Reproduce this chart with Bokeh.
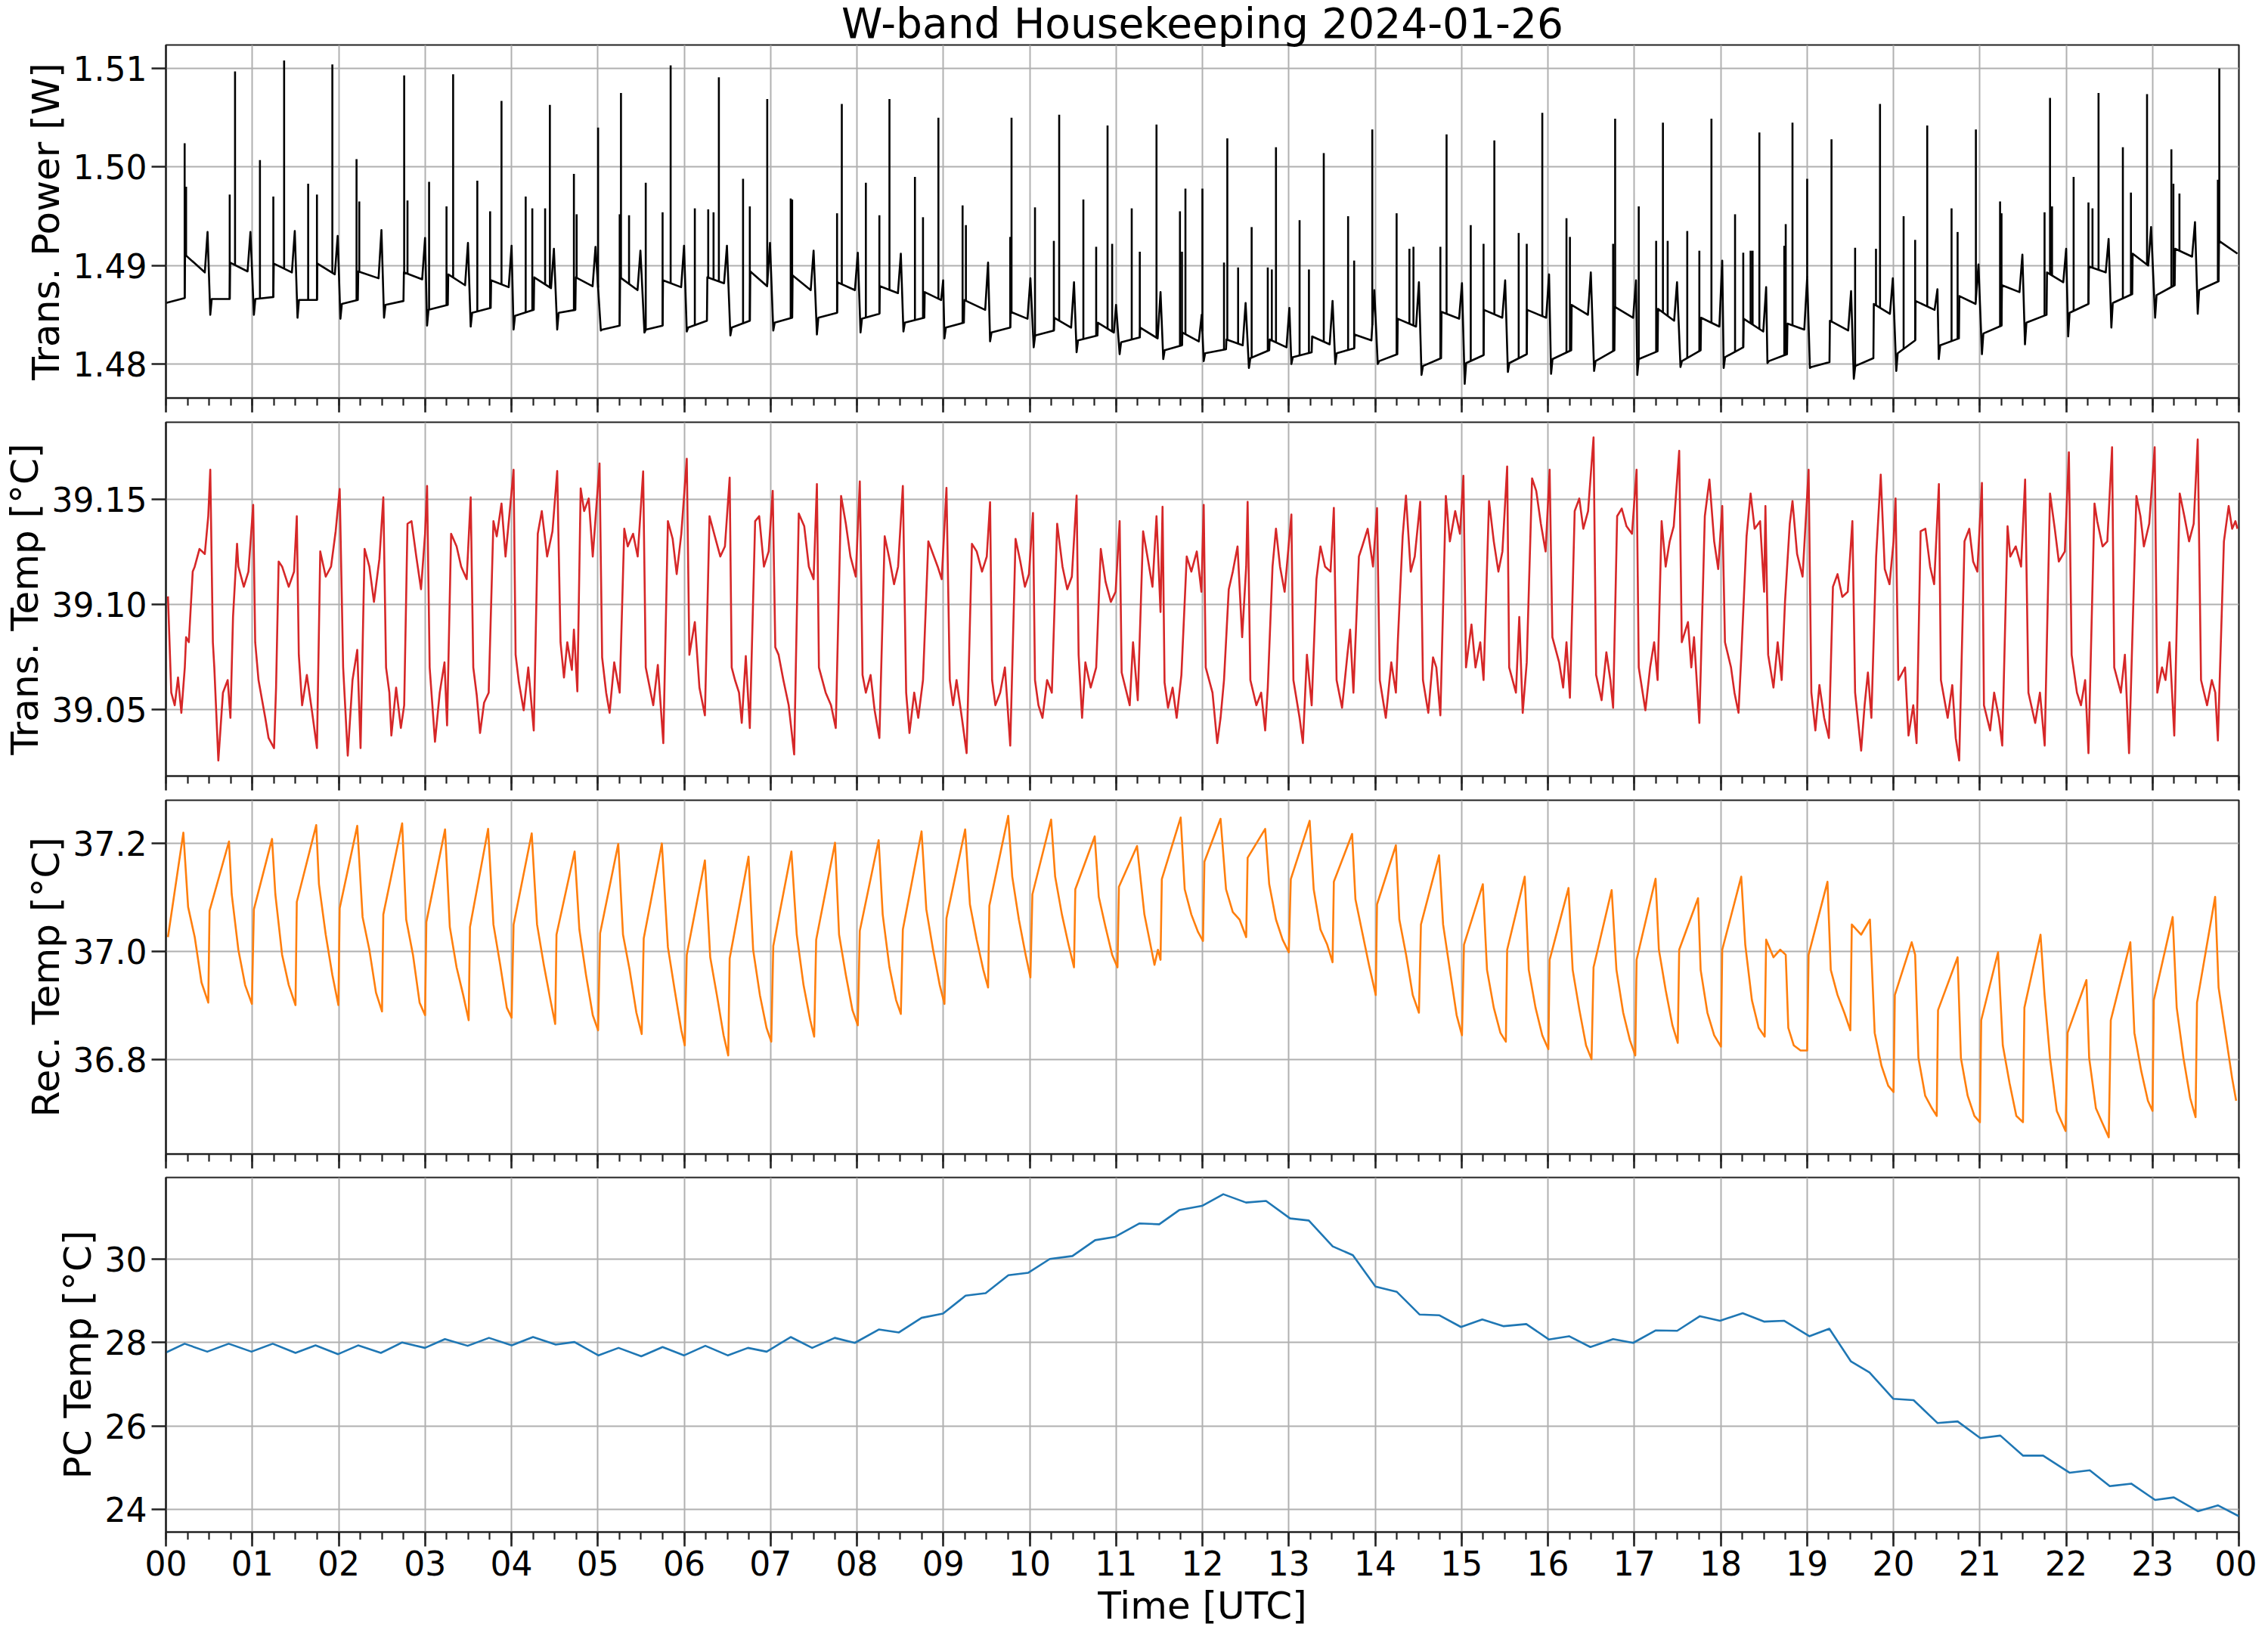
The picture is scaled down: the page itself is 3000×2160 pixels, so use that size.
import numpy as np
from bokeh.plotting import figure
from bokeh.layouts import column
from bokeh.models import FixedTicker, Range1d, PrintfTickFormatter
from bokeh.embed import file_html
from bokeh.resources import INLINE

# ---------------------------------------------------------------- texts / ticks
TITLE = "W-band Housekeeping 2024-01-26"
X_LABEL = "Time [UTC]"
Y_LABELS = ["Trans. Power [W]", "Trans. Temp [°C]", "Rec. Temp [°C]", "PC Temp [°C]"]
HOUR_TICKS = [0, 60, 120, 180, 240, 300, 360, 420, 480, 540, 600, 660, 720,
              780, 840, 900, 960, 1020, 1080, 1140, 1200, 1260, 1320, 1380, 1440]
HOUR_LABELS = ["00", "01", "02", "03", "04", "05", "06", "07", "08", "09", "10", "11", "12",
               "13", "14", "15", "16", "17", "18", "19", "20", "21", "22", "23", "00"]
QUARTER_TICKS = list(range(0, 1441, 15))
POWER_TICKS = [1.48, 1.49, 1.50, 1.51]
TTEMP_TICKS = [39.05, 39.10, 39.15]
RTEMP_TICKS = [36.8, 37.0, 37.2]
PCTEMP_TICKS = [24, 26, 28, 30]

# ---------------------------------------------------------------- data (time in minutes UTC)
# transmitter power: plateau / switching breakpoints
POWER_BASE = [
    (0.0, 1.4862), (13.0, 1.4867), (13.3, 1.4911), (27.0, 1.4893), (28.9, 1.4934),
    (30.8, 1.4850), (31.8, 1.4866), (44.3, 1.4866), (44.6, 1.4903), (56.7, 1.4894), (58.7, 1.4934),
    (61.1, 1.4850), (62.1, 1.4866), (74.6, 1.4868), (74.9, 1.4902), (87.5, 1.4893), (89.5, 1.4935),
    (91.4, 1.4847), (92.4, 1.4865), (104.9, 1.4865), (105.2, 1.4902), (117.3, 1.4891), (119.3, 1.4930),
    (121.2, 1.4846), (122.2, 1.4861), (133.3, 1.4865), (133.6, 1.4894), (147.7, 1.4887), (149.7, 1.4936),
    (151.5, 1.4847), (152.5, 1.4860), (165.0, 1.4864), (165.3, 1.4893), (178.0, 1.4886), (180.0, 1.4928),
    (181.4, 1.4839), (182.4, 1.4855), (195.8, 1.4860), (196.1, 1.4891), (207.8, 1.4880), (209.8, 1.4923),
    (211.7, 1.4838), (212.7, 1.4852), (225.6, 1.4857), (225.9, 1.4885), (238.1, 1.4878), (240.1, 1.4920),
    (241.5, 1.4835), (242.5, 1.4849), (255.5, 1.4855), (255.8, 1.4888), (267.5, 1.4877), (269.5, 1.4917),
    (271.8, 1.4835), (272.8, 1.4852), (284.4, 1.4855), (284.7, 1.4888), (296.4, 1.4879), (298.4, 1.4919),
    (302.1, 1.4834), (303.1, 1.4835), (315.2, 1.4839), (315.5, 1.4888), (327.6, 1.4875), (329.6, 1.4915),
    (332.4, 1.4832), (333.4, 1.4835), (345.0, 1.4839), (345.3, 1.4885), (357.9, 1.4878), (359.9, 1.4920),
    (361.8, 1.4833), (362.8, 1.4837), (375.8, 1.4844), (376.1, 1.4888), (387.7, 1.4882), (389.7, 1.4920),
    (392.1, 1.4829), (393.1, 1.4837), (405.6, 1.4844), (405.9, 1.4894), (417.6, 1.4879), (419.6, 1.4923),
    (421.9, 1.4834), (422.9, 1.4842), (435.0, 1.4847), (435.3, 1.4890), (447.9, 1.4875), (449.9, 1.4915),
    (452.2, 1.4830), (453.2, 1.4847), (466.2, 1.4852), (466.5, 1.4883), (478.6, 1.4875), (480.6, 1.4913),
    (482.5, 1.4832), (483.5, 1.4846), (495.6, 1.4851), (495.9, 1.4879), (508.5, 1.4872), (510.5, 1.4912),
    (512.3, 1.4833), (513.3, 1.4842), (526.8, 1.4847), (527.1, 1.4873), (538.5, 1.4865), (539.9, 1.4885),
    (540.8, 1.4826), (541.8, 1.4837), (554.3, 1.4842), (554.6, 1.4865), (569.1, 1.4855), (571.1, 1.4903),
    (572.5, 1.4823), (573.5, 1.4832), (586.5, 1.4837), (586.8, 1.4853), (598.5, 1.4846), (600.5, 1.4887),
    (602.8, 1.4817), (603.8, 1.4829), (616.8, 1.4834), (617.1, 1.4847), (628.8, 1.4837), (630.8, 1.4883),
    (632.6, 1.4812), (633.6, 1.4824), (647.1, 1.4829), (647.4, 1.4842), (658.5, 1.4832), (660.0, 1.4860),
    (662.5, 1.4810), (663.5, 1.4822), (676.5, 1.4827), (676.8, 1.4837), (688.9, 1.4826), (690.9, 1.4873),
    (692.8, 1.4805), (693.8, 1.4814), (705.8, 1.4819), (706.1, 1.4832), (717.5, 1.4823), (719.5, 1.4850),
    (720.9, 1.4803), (721.9, 1.4811), (736.4, 1.4815), (736.7, 1.4825), (748.0, 1.4819), (750.0, 1.4862),
    (752.3, 1.4796), (753.3, 1.4806), (766.4, 1.4814), (766.7, 1.4825), (778.4, 1.4817), (780.4, 1.4857),
    (781.8, 1.4800), (782.8, 1.4807), (795.9, 1.4812), (796.2, 1.4828), (808.4, 1.4820), (810.4, 1.4864),
    (812.3, 1.4800), (813.3, 1.4811), (825.4, 1.4816), (825.7, 1.4830), (837.4, 1.4824), (839.4, 1.4875),
    (841.8, 1.4800), (842.8, 1.4803), (855.4, 1.4810), (855.7, 1.4846), (868.4, 1.4838), (870.4, 1.4883),
    (872.2, 1.4789), (873.2, 1.4798), (885.8, 1.4806), (886.1, 1.4853), (898.3, 1.4846), (900.3, 1.4882),
    (902.2, 1.4780), (903.2, 1.4801), (915.3, 1.4809), (915.6, 1.4855), (928.3, 1.4847), (930.3, 1.4885),
    (932.2, 1.4792), (933.2, 1.4801), (945.3, 1.4810), (945.6, 1.4855), (958.8, 1.4847), (960.8, 1.4891),
    (962.2, 1.4790), (963.2, 1.4805), (976.2, 1.4814), (976.5, 1.4860), (987.8, 1.4850), (989.8, 1.4893),
    (992.1, 1.4793), (993.1, 1.4803), (1006.2, 1.4814), (1006.5, 1.4858), (1019.2, 1.4847), (1021.2, 1.4885),
    (1022.1, 1.4789), (1023.1, 1.4805), (1036.2, 1.4813), (1036.5, 1.4856), (1047.7, 1.4844), (1049.7, 1.4883),
    (1052.1, 1.4797), (1053.1, 1.4803), (1066.1, 1.4814), (1066.4, 1.4847), (1079.1, 1.4838), (1081.1, 1.4905),
    (1082.1, 1.4796), (1083.1, 1.4807), (1095.7, 1.4817), (1096.0, 1.4846), (1109.6, 1.4833), (1111.6, 1.4878),
    (1112.5, 1.4801), (1113.5, 1.4803), (1126.1, 1.4810), (1126.4, 1.4841), (1138.1, 1.4835), (1140.1, 1.4888),
    (1142.0, 1.4796), (1143.0, 1.4797), (1155.6, 1.4802), (1155.9, 1.4844), (1168.6, 1.4834), (1170.6, 1.4874),
    (1172.5, 1.4785), (1173.5, 1.4798), (1186.1, 1.4806), (1186.4, 1.4861), (1197.6, 1.4851), (1199.6, 1.4887),
    (1202.0, 1.4793), (1203.0, 1.4811), (1215.1, 1.4824), (1215.4, 1.4864), (1228.6, 1.4855), (1230.6, 1.4876),
    (1231.5, 1.4805), (1232.5, 1.4819), (1245.5, 1.4826), (1245.8, 1.4869), (1257.1, 1.4861), (1259.1, 1.4901),
    (1261.5, 1.4810), (1262.5, 1.4831), (1275.1, 1.4839), (1275.4, 1.4880), (1287.6, 1.4873), (1289.6, 1.4911),
    (1291.4, 1.4820), (1292.4, 1.4842), (1306.4, 1.4850), (1306.7, 1.4893), (1318.0, 1.4883), (1320.0, 1.4917),
    (1321.4, 1.4828), (1322.4, 1.4852), (1335.5, 1.4861), (1335.8, 1.4899), (1347.5, 1.4893), (1349.5, 1.4927),
    (1351.4, 1.4837), (1352.4, 1.4862), (1365.9, 1.4871), (1366.2, 1.4912), (1377.0, 1.4900), (1379.0, 1.4939),
    (1381.8, 1.4847), (1382.8, 1.4870), (1395.4, 1.4880), (1395.7, 1.4917), (1407.5, 1.4909), (1409.5, 1.4944),
    (1411.4, 1.4851), (1412.4, 1.4875), (1425.9, 1.4884), (1426.2, 1.4925), (1439.0, 1.4912),
]
# transmitter power: short spikes (time, peak value)
POWER_SPIKES = [
    (13.0, 1.5024), (14.0, 1.4980), (44.3, 1.4972), (48.0, 1.5097), (65.3, 1.5007), (74.6, 1.4970),
    (82.1, 1.5108), (98.8, 1.4983), (104.9, 1.4972), (115.6, 1.5104), (132.4, 1.5008), (134.3, 1.4965),
    (165.5, 1.5093), (167.8, 1.4966), (182.8, 1.4985), (194.9, 1.4960), (199.5, 1.5094), (216.3, 1.4986),
    (225.2, 1.4955), (233.1, 1.5067), (249.9, 1.4970), (254.5, 1.4958), (263.4, 1.4958), (266.7, 1.5063),
    (283.4, 1.4993), (285.3, 1.4952), (300.2, 1.5040), (315.2, 1.4952), (316.1, 1.5075), (321.7, 1.4951),
    (333.3, 1.4984), (345.0, 1.4954), (350.6, 1.5103), (367.4, 1.4958), (376.7, 1.4957), (380.4, 1.4954),
    (384.1, 1.5091), (400.9, 1.4988), (405.6, 1.4960), (417.7, 1.5069), (434.0, 1.4968), (435.0, 1.4967),
    (466.2, 1.4953), (469.5, 1.5064), (486.2, 1.4984), (495.6, 1.4951), (502.6, 1.5069), (520.3, 1.4990),
    (525.9, 1.4949), (536.6, 1.5050), (553.4, 1.4961), (555.7, 1.4941), (586.5, 1.4929), (587.4, 1.5050),
    (603.7, 1.4959), (616.8, 1.4925), (620.5, 1.5053), (637.3, 1.4967), (646.2, 1.4919), (654.1, 1.5042),
    (657.3, 1.4922), (670.9, 1.4958), (676.5, 1.4914), (688.1, 1.5043), (704.4, 1.4955), (705.8, 1.4914),
    (708.2, 1.4978), (720.0, 1.4978), (735.0, 1.4903), (737.3, 1.5029), (744.8, 1.4898), (754.2, 1.4939),
    (765.4, 1.4898), (768.2, 1.4896), (771.1, 1.5020), (787.5, 1.4946), (794.0, 1.4896), (804.3, 1.5014),
    (821.2, 1.4950), (825.4, 1.4905), (838.0, 1.5038), (854.9, 1.4953), (863.8, 1.4917), (866.6, 1.4919),
    (885.3, 1.4919), (889.6, 1.5033), (906.4, 1.4941), (915.3, 1.4922), (922.8, 1.5027), (939.7, 1.4933),
    (945.3, 1.4922), (956.1, 1.5055), (972.9, 1.4948), (975.3, 1.4929), (1005.3, 1.4922), (1006.7, 1.5049),
    (1023.1, 1.4960), (1035.2, 1.4925), (1039.9, 1.5045), (1043.2, 1.4925), (1056.8, 1.4935), (1065.2, 1.4915),
    (1073.6, 1.5049), (1090.0, 1.4952), (1095.7, 1.4913), (1100.8, 1.4915), (1102.2, 1.4915), (1106.9, 1.5035),
    (1124.2, 1.4920), (1125.2, 1.4942), (1129.9, 1.5045), (1140.1, 1.4988), (1157.0, 1.5028), (1173.4, 1.4918),
    (1187.9, 1.4917), (1190.7, 1.5064), (1207.1, 1.4950), (1215.1, 1.4926), (1223.5, 1.5042), (1240.4, 1.4958),
    (1244.6, 1.4934), (1257.3, 1.5038), (1274.1, 1.4965), (1275.1, 1.4953), (1305.0, 1.4954), (1308.8, 1.5070),
    (1310.2, 1.4960), (1325.2, 1.4990), (1335.5, 1.4964), (1338.3, 1.4958), (1342.5, 1.5075), (1359.4, 1.5020),
    (1365.0, 1.4974), (1376.2, 1.5074), (1393.1, 1.5018), (1394.5, 1.4983), (1398.7, 1.4973), (1425.4, 1.4987),
    (1426.4, 1.5100),
]
# transmitter temperature
TTEMP = [
    (1.4, 39.1038), (3.7, 39.0580), (6.1, 39.0520), (8.4, 39.0652), (10.7, 39.0484), (13.1, 39.0700), (14.0, 39.0844),
    (15.9, 39.0820), (18.6, 39.1156), (20.0, 39.1180), (23.3, 39.1264), (27.0, 39.1240), (29.4, 39.1420), (30.8, 39.1641),
    (32.6, 39.0820), (33.6, 39.0700), (36.4, 39.0257), (39.6, 39.0580), (42.9, 39.0640), (44.8, 39.0460), (46.6, 39.0940),
    (49.4, 39.1288), (50.3, 39.1180), (54.1, 39.1084), (57.3, 39.1156), (60.6, 39.1474),
    (62.0, 39.0820), (64.3, 39.0640), (69.0, 39.0460), (71.3, 39.0364), (75.1, 39.0316), (76.5, 39.0604), (78.3, 39.1204),
    (80.7, 39.1180), (85.3, 39.1084), (89.0, 39.1156), (90.9, 39.1420),
    (92.3, 39.0760), (94.6, 39.0520), (97.9, 39.0664), (101.6, 39.0484), (104.9, 39.0316), (107.2, 39.1252), (111.0, 39.1132),
    (114.7, 39.1180), (117.9, 39.1348), (120.7, 39.1549),
    (123.1, 39.0700), (126.3, 39.0280), (129.6, 39.0640), (132.9, 39.0784), (135.2, 39.0316), (138.0, 39.1264), (141.3, 39.1180),
    (144.5, 39.1012), (148.3, 39.1216), (151.0, 39.1510),
    (152.9, 39.0700), (155.2, 39.0580), (156.6, 39.0376), (159.9, 39.0604), (163.2, 39.0412), (165.5, 39.0520), (167.8, 39.1384),
    (170.6, 39.1396), (173.9, 39.1228), (177.2, 39.1072), (180.0, 39.1336), (181.4, 39.1564),
    (183.2, 39.0700), (186.9, 39.0346), (190.2, 39.0580), (193.5, 39.0724), (195.3, 39.0424), (198.1, 39.1336), (201.9, 39.1276),
    (205.1, 39.1180), (208.9, 39.1120), (211.7, 39.1510),
    (213.5, 39.0700), (215.9, 39.0568), (218.2, 39.0388), (221.0, 39.0532), (224.2, 39.0580), (227.5, 39.1396), (229.8, 39.1324),
    (233.1, 39.1480), (235.9, 39.1228), (241.5, 39.1641),
    (242.9, 39.0760), (245.2, 39.0628), (248.5, 39.0496), (251.7, 39.0700), (255.5, 39.0400), (258.3, 39.1336), (261.1, 39.1444),
    (264.8, 39.1228), (268.5, 39.1348), (271.8, 39.1635),
    (274.1, 39.0820), (276.5, 39.0652), (278.8, 39.0820), (282.0, 39.0688), (283.4, 39.0880), (285.8, 39.0586), (288.1, 39.1552),
    (290.5, 39.1444), (293.7, 39.1504), (296.5, 39.1228), (301.2, 39.1671),
    (303.0, 39.0748), (305.8, 39.0580), (308.2, 39.0484), (311.4, 39.0724), (315.2, 39.0580), (318.4, 39.1360), (320.8, 39.1276),
    (324.5, 39.1336), (327.7, 39.1228), (331.5, 39.1633),
    (333.3, 39.0700), (338.5, 39.0520), (341.7, 39.0712), (345.5, 39.0340), (348.7, 39.1396), (352.0, 39.1312), (354.8, 39.1144),
    (358.0, 39.1336), (361.8, 39.1693),
    (363.6, 39.0760), (367.4, 39.0916), (370.6, 39.0604), (374.4, 39.0472), (377.6, 39.1420), (381.3, 39.1324), (385.1, 39.1228),
    (388.3, 39.1276), (391.6, 39.1603),
    (393.0, 39.0700), (395.3, 39.0640), (398.1, 39.0580), (400.0, 39.0436), (402.8, 39.0754), (405.6, 39.0412), (409.3, 39.1396),
    (412.1, 39.1420), (415.4, 39.1180), (418.7, 39.1252), (421.5, 39.1540),
    (423.3, 39.0796), (425.6, 39.0760), (428.9, 39.0640), (432.6, 39.0520), (436.4, 39.0286), (439.6, 39.1432), (443.4, 39.1372),
    (446.6, 39.1180), (449.9, 39.1120), (452.2, 39.1573),
    (453.6, 39.0700), (458.3, 39.0580), (462.0, 39.0520), (465.3, 39.0412), (469.0, 39.1516), (472.3, 39.1384), (475.5, 39.1228),
    (479.2, 39.1132), (482.0, 39.1585),
    (483.9, 39.0664), (486.2, 39.0580), (489.5, 39.0664), (492.3, 39.0496), (495.6, 39.0364), (499.3, 39.1324), (502.6, 39.1216),
    (505.8, 39.1096), (508.6, 39.1180), (511.9, 39.1564),
    (514.2, 39.0580), (516.5, 39.0388), (519.8, 39.0580), (522.6, 39.0460), (525.9, 39.0640), (529.6, 39.1300), (536.1, 39.1180),
    (538.9, 39.1120), (542.2, 39.1555),
    (544.5, 39.0640), (546.8, 39.0520), (549.2, 39.0640), (552.9, 39.0460), (556.2, 39.0292), (559.9, 39.1288), (563.2, 39.1252),
    (566.9, 39.1156), (570.2, 39.1228), (572.5, 39.1486),
    (573.9, 39.0640), (576.2, 39.0520), (579.5, 39.0580), (582.8, 39.0700), (586.5, 39.0328), (590.2, 39.1312), (593.5, 39.1204),
    (596.7, 39.1084), (599.5, 39.1144), (602.3, 39.1435),
    (603.7, 39.0640), (606.1, 39.0520), (608.9, 39.0460), (612.1, 39.0640), (615.4, 39.0580), (619.1, 39.1384), (622.8, 39.1180),
    (626.1, 39.1072), (629.3, 39.1132), (632.6, 39.1518),
    (634.0, 39.0760), (636.4, 39.0460), (638.7, 39.0724), (642.4, 39.0604), (646.2, 39.0700), (649.4, 39.1264), (652.7, 39.1108),
    (656.4, 39.1012), (659.7, 39.1060), (662.5, 39.1396),
    (663.9, 39.0676), (669.5, 39.0520), (671.8, 39.0820), (675.1, 39.0544), (678.8, 39.1348), (682.1, 39.1216), (685.3, 39.1084),
    (688.1, 39.1420), (690.9, 39.0964), (692.3, 39.1465),
    (693.7, 39.0628), (696.1, 39.0508), (699.3, 39.0604), (702.1, 39.0460), (705.4, 39.0664), (709.1, 39.1228), (712.3, 39.1156),
    (716.1, 39.1252), (719.3, 39.1060), (720.9, 39.1474),
    (722.3, 39.0700), (727.0, 39.0580), (730.3, 39.0340), (732.6, 39.0460), (735.0, 39.0640), (738.3, 39.1072), (741.1, 39.1156),
    (744.4, 39.1276), (747.6, 39.0844), (750.4, 39.1180), (751.4, 39.1488),
    (753.3, 39.0640), (757.5, 39.0520), (760.8, 39.0580), (763.6, 39.0400), (765.4, 39.0604), (768.7, 39.1180), (771.1, 39.1360),
    (773.9, 39.1180), (777.1, 39.1060), (781.8, 39.1428),
    (783.2, 39.0640), (787.5, 39.0460), (789.8, 39.0340), (792.6, 39.0760), (795.9, 39.0520), (799.2, 39.1120), (802.0, 39.1276),
    (805.2, 39.1180), (809.0, 39.1156), (811.3, 39.1459),
    (813.2, 39.0640), (817.0, 39.0508), (820.7, 39.0760), (822.6, 39.0880), (824.9, 39.0580), (828.7, 39.1228), (831.0, 39.1276),
    (834.8, 39.1360), (838.5, 39.1180), (841.3, 39.1458),
    (843.2, 39.0640), (847.4, 39.0460), (851.2, 39.0724), (854.4, 39.0580), (855.8, 39.0832), (859.1, 39.1324), (861.4, 39.1518),
    (864.7, 39.1156), (867.5, 39.1228), (871.3, 39.1489),
    (873.2, 39.0640), (876.9, 39.0484), (880.2, 39.0748), (882.5, 39.0700), (885.3, 39.0472), (889.1, 39.1516), (891.9, 39.1300),
    (895.6, 39.1444), (898.9, 39.1336), (901.3, 39.1612),
    (903.1, 39.0700), (906.9, 39.0904), (909.7, 39.0700), (913.0, 39.0820), (915.3, 39.0640), (919.1, 39.1492), (922.4, 39.1300),
    (925.6, 39.1156), (928.4, 39.1252), (931.7, 39.1656),
    (933.1, 39.0700), (937.8, 39.0580), (940.1, 39.0940), (942.5, 39.0484), (945.3, 39.0724), (949.0, 39.1600), (951.9, 39.1540),
    (955.1, 39.1384), (958.4, 39.1252), (961.2, 39.1641),
    (963.1, 39.0844), (967.8, 39.0724), (970.6, 39.0604), (972.9, 39.0820), (975.3, 39.0556), (978.6, 39.1444), (981.8, 39.1504),
    (984.6, 39.1360), (987.9, 39.1444), (991.7, 39.1795),
    (993.5, 39.0664), (997.3, 39.0544), (1000.6, 39.0772), (1003.4, 39.0640), (1005.3, 39.0508), (1008.1, 39.1420), (1011.3, 39.1456),
    (1014.6, 39.1372), (1018.4, 39.1336), (1021.6, 39.1641),
    (1023.1, 39.0700), (1027.7, 39.0496), (1031.0, 39.0700), (1033.8, 39.0820), (1036.2, 39.0640), (1039.0, 39.1396), (1041.8, 39.1180),
    (1044.6, 39.1300), (1047.4, 39.1372), (1051.2, 39.1731),
    (1053.0, 39.0820), (1057.3, 39.0916), (1059.6, 39.0700), (1061.5, 39.0844), (1065.2, 39.0436), (1069.0, 39.1420), (1072.2, 39.1594),
    (1075.5, 39.1300), (1078.3, 39.1168), (1081.1, 39.1468),
    (1083.0, 39.0820), (1087.2, 39.0700), (1089.6, 39.0580), (1092.4, 39.0484), (1094.3, 39.0748), (1098.0, 39.1324), (1100.8, 39.1528),
    (1103.6, 39.1360), (1107.4, 39.1396), (1110.2, 39.1060), (1111.1, 39.1468),
    (1113.0, 39.0760), (1116.7, 39.0604), (1119.6, 39.0820), (1122.4, 39.0640), (1124.7, 39.1012), (1128.0, 39.1384), (1129.9, 39.1492),
    (1133.1, 39.1240), (1136.9, 39.1132), (1141.1, 39.1641),
    (1143.0, 39.0580), (1145.8, 39.0400), (1148.6, 39.0616), (1151.9, 39.0460), (1155.2, 39.0364), (1158.0, 39.1084), (1161.2, 39.1144),
    (1164.5, 39.1036), (1168.3, 39.1060), (1171.5, 39.1396),
    (1173.4, 39.0580), (1177.6, 39.0304), (1180.0, 39.0520), (1182.3, 39.0676), (1184.7, 39.0460), (1188.0, 39.1228), (1191.2, 39.1618),
    (1194.0, 39.1168), (1197.3, 39.1096), (1200.1, 39.1300), (1201.5, 39.1504),
    (1203.4, 39.0640), (1208.1, 39.0700), (1210.5, 39.0376), (1213.8, 39.0520), (1216.1, 39.0340), (1218.9, 39.1348), (1222.2, 39.1360),
    (1225.5, 39.1180), (1228.3, 39.1096), (1231.6, 39.1573),
    (1233.0, 39.0640), (1237.7, 39.0460), (1240.9, 39.0616), (1243.3, 39.0364), (1245.7, 39.0257), (1249.4, 39.1300), (1252.7, 39.1360),
    (1255.4, 39.1204), (1258.3, 39.1156), (1261.5, 39.1578),
    (1262.9, 39.0520), (1267.2, 39.0400), (1270.0, 39.0580), (1273.3, 39.0460), (1275.6, 39.0328), (1279.3, 39.1372), (1281.2, 39.1228),
    (1285.0, 39.1276), (1288.7, 39.1180), (1291.5, 39.1594),
    (1293.8, 39.0580), (1298.5, 39.0436), (1301.8, 39.0580), (1305.1, 39.0328), (1308.8, 39.1528), (1312.1, 39.1360), (1314.9, 39.1204),
    (1319.1, 39.1252), (1321.9, 39.1724),
    (1323.8, 39.0760), (1327.5, 39.0580), (1330.3, 39.0520), (1333.2, 39.0640), (1335.5, 39.0292), (1339.7, 39.1480), (1341.6, 39.1396),
    (1345.3, 39.1276), (1348.6, 39.1300), (1351.9, 39.1748),
    (1353.4, 39.0700), (1358.0, 39.0580), (1360.8, 39.0760), (1363.7, 39.0292), (1368.8, 39.1516), (1371.6, 39.1420), (1374.0, 39.1276),
    (1377.7, 39.1384), (1381.5, 39.1748),
    (1383.3, 39.0580), (1386.6, 39.0700), (1389.0, 39.0640), (1391.8, 39.0820), (1395.1, 39.0376), (1398.9, 39.1528), (1402.1, 39.1420),
    (1405.4, 39.1300), (1408.6, 39.1384), (1411.4, 39.1785),
    (1413.7, 39.0640), (1417.9, 39.0520), (1421.2, 39.0640), (1423.6, 39.0580), (1425.4, 39.0352), (1429.6, 39.1300), (1432.9, 39.1468),
    (1435.3, 39.1360), (1437.6, 39.1396), (1439.0, 39.1360),
]
# receiver temperature
RTEMP = [
    (1.4, 37.0266), (12.1, 37.2200), (15.4, 37.0825), (20.0, 37.0266), (24.7, 36.9427), (29.4, 36.9054),
    (30.3, 37.0755), (43.8, 37.2037), (45.7, 37.1058), (50.3, 37.0033), (55.0, 36.9380), (59.7, 36.9030),
    (61.1, 37.0779), (73.7, 37.2084), (76.0, 37.1058), (80.7, 36.9939), (85.3, 36.9380), (90.0, 36.9007),
    (90.9, 37.0918), (104.4, 37.2340), (106.3, 37.1245), (111.0, 37.0312), (115.6, 36.9566), (119.8, 36.9007),
    (120.7, 37.0802), (132.9, 37.2326), (136.6, 37.0639), (141.3, 37.0033), (145.9, 36.9240), (150.1, 36.8890),
    (151.0, 37.0685), (164.1, 37.2373), (166.9, 37.0592), (171.6, 36.9939), (176.2, 36.9054), (180.0, 36.8821),
    (180.9, 37.0545), (193.9, 37.2261), (197.2, 37.0452), (201.9, 36.9706), (206.5, 36.9194), (210.3, 36.8727),
    (211.2, 37.0452), (223.8, 37.2270), (227.5, 37.0499), (232.2, 36.9753), (236.8, 36.8960), (240.1, 36.8774),
    (241.5, 37.0499), (254.1, 37.2186), (257.8, 37.0499), (262.5, 36.9753), (267.1, 36.9100), (270.4, 36.8657),
    (271.3, 37.0312), (283.9, 37.1851), (287.2, 37.0406), (291.8, 36.9566), (296.5, 36.8821), (300.2, 36.8541),
    (301.6, 37.0336), (314.2, 37.1991), (317.5, 37.0312), (322.1, 36.9660), (326.8, 36.8867), (330.5, 36.8471),
    (331.9, 37.0242), (344.5, 37.2000), (348.7, 37.0079), (353.4, 36.9287), (358.0, 36.8541), (360.4, 36.8261),
    (361.8, 36.9939), (374.4, 37.1688), (378.1, 36.9893), (382.7, 36.9194), (387.4, 36.8448), (390.6, 36.8075),
    (391.6, 36.9870), (404.7, 37.1758), (407.9, 37.0033), (412.6, 36.9194), (417.2, 36.8587), (420.5, 36.8331),
    (421.9, 37.0103), (434.5, 37.1851), (438.2, 37.0312), (442.9, 36.9380), (447.6, 36.8727), (450.3, 36.8424),
    (451.7, 37.0219), (464.8, 37.2014), (467.6, 37.0312), (472.3, 36.9566), (476.9, 36.8914), (480.6, 36.8634),
    (482.0, 37.0382), (495.1, 37.2061), (497.9, 37.0685), (502.6, 36.9706), (507.2, 36.9100), (510.5, 36.8844),
    (511.9, 37.0406), (524.9, 37.2224), (528.2, 37.0779), (532.9, 37.0033), (537.5, 36.9380), (540.8, 36.9030),
    (542.2, 37.0615), (555.2, 37.2261), (558.5, 37.0872), (563.2, 37.0219), (567.8, 36.9660), (571.1, 36.9333),
    (572.0, 37.0848), (585.1, 37.2513), (587.9, 37.1385), (592.5, 37.0592), (597.2, 36.9939), (600.5, 36.9520),
    (601.9, 37.1058), (614.9, 37.2443), (617.7, 37.1385), (622.4, 37.0685), (627.0, 37.0126), (630.8, 36.9706),
    (631.7, 37.1152), (645.2, 37.2131), (648.0, 37.1012), (652.7, 37.0452), (657.3, 36.9939), (661.0, 36.9706),
    (662.0, 37.1198), (674.6, 37.1953), (679.7, 37.0685), (686.7, 36.9753), (689.1, 37.0033), (690.9, 36.9846),
    (691.8, 37.1338), (704.9, 37.2480), (707.7, 37.1152), (712.3, 37.0685), (717.0, 37.0359), (720.4, 37.0196),
    (721.4, 37.1664), (732.6, 37.2457), (736.4, 37.1152), (741.1, 37.0732), (745.8, 37.0592), (750.4, 37.0266),
    (751.4, 37.1734), (763.6, 37.2270), (766.4, 37.1245), (771.1, 37.0592), (775.7, 37.0219), (780.0, 36.9986),
    (781.4, 37.1338), (794.5, 37.2420), (797.3, 37.1152), (802.0, 37.0406), (806.7, 37.0126), (810.4, 36.9800),
    (811.3, 37.1291), (824.0, 37.2177), (826.3, 37.0965), (831.0, 37.0359), (835.7, 36.9753), (840.4, 36.9194),
    (841.3, 37.0872), (854.4, 37.1967), (856.8, 37.0592), (861.5, 36.9939), (866.1, 36.9194), (870.4, 36.8867),
    (871.8, 37.0499), (884.4, 37.1781), (887.2, 37.0499), (891.9, 36.9660), (896.6, 36.8821), (900.3, 36.8448),
    (901.7, 37.0126), (914.8, 37.1245), (917.7, 36.9660), (922.4, 36.8960), (927.0, 36.8494), (930.8, 36.8331),
    (931.7, 37.0033), (943.9, 37.1385), (946.7, 36.9660), (951.4, 36.8960), (956.1, 36.8448), (960.3, 36.8191),
    (961.2, 36.9846), (974.3, 37.1175), (977.2, 36.9660), (981.9, 36.8914), (986.5, 36.8261), (990.3, 36.8005),
    (991.7, 36.9706), (1004.3, 37.1138), (1007.6, 36.9660), (1012.3, 36.8867), (1017.0, 36.8354), (1020.7, 36.8075),
    (1021.6, 36.9846), (1034.8, 37.1347), (1037.1, 37.0033), (1041.8, 36.9287), (1046.5, 36.8634), (1050.2, 36.8308),
    (1051.2, 37.0033), (1064.3, 37.0988), (1066.1, 36.9660), (1070.8, 36.8867), (1075.5, 36.8448), (1080.2, 36.8238),
    (1081.1, 37.0033), (1094.3, 37.1385), (1097.1, 37.0126), (1101.7, 36.9100), (1106.4, 36.8587), (1110.6, 36.8424),
    (1111.6, 37.0219), (1116.7, 36.9893), (1121.4, 37.0033), (1125.2, 36.9939), (1127.0, 36.8587), (1130.8, 36.8261),
    (1135.5, 36.8168), (1140.1, 36.8168),
    (1141.1, 36.9939), (1154.2, 37.1291), (1156.5, 36.9660), (1161.2, 36.9194), (1165.9, 36.8867), (1170.1, 36.8541),
    (1171.1, 37.0499), (1177.6, 37.0312), (1183.7, 37.0592), (1187.0, 36.8494), (1191.7, 36.7888), (1196.4, 36.7515),
    (1200.1, 36.7399),
    (1201.0, 36.9194), (1212.7, 37.0172), (1215.1, 36.9939), (1217.4, 36.8028), (1222.1, 36.7329), (1226.8, 36.7096),
    (1230.1, 36.6956),
    (1231.0, 36.8914), (1244.6, 36.9893), (1246.9, 36.8028), (1251.6, 36.7329), (1256.3, 36.6956), (1260.1, 36.6839),
    (1261.0, 36.8727), (1272.7, 36.9986), (1276.0, 36.8261), (1280.7, 36.7562), (1285.4, 36.6956), (1290.0, 36.6839),
    (1291.0, 36.8960), (1302.2, 37.0312), (1305.0, 36.9194), (1308.8, 36.8028), (1313.5, 36.7049), (1319.6, 36.6676),
    (1321.0, 36.8494), (1334.1, 36.9473), (1336.0, 36.8028), (1340.7, 36.7096), (1345.3, 36.6816), (1349.6, 36.6560),
    (1351.0, 36.8727), (1364.6, 37.0172), (1367.4, 36.8494), (1372.1, 36.7795), (1376.8, 36.7236), (1380.0, 36.7049),
    (1380.9, 36.9100), (1394.0, 37.0639), (1396.8, 36.8960), (1401.5, 36.8028), (1406.2, 36.7282), (1409.9, 36.6933),
    (1410.9, 36.9054), (1423.5, 37.1012), (1425.9, 36.9333), (1430.6, 36.8494), (1435.3, 36.7655), (1438.1, 36.7236),
]
# PC temperature
PCTEMP = [
    (0.0, 27.76), (13.0, 27.97), (28.7, 27.78), (43.6, 27.97), (59.4, 27.78), (74.2, 27.97), (90.0, 27.75),
    (103.9, 27.93), (119.6, 27.72), (133.5, 27.93), (149.3, 27.75), (164.1, 28.00), (179.9, 27.87), (193.8, 28.08),
    (209.6, 27.92), (224.4, 28.11), (240.2, 27.93), (255.0, 28.13), (270.8, 27.95), (283.8, 28.01), (300.5, 27.69),
    (314.4, 27.87), (330.2, 27.67), (345.0, 27.89), (359.8, 27.69), (374.7, 27.92), (390.4, 27.69), (404.3, 27.87),
    (417.3, 27.78), (434.0, 28.13), (448.9, 27.87), (464.6, 28.11), (478.5, 27.99), (495.2, 28.31), (509.2, 28.24),
    (524.9, 28.59), (539.8, 28.69), (555.5, 29.12), (569.4, 29.18), (585.2, 29.61), (599.1, 29.67), (614.0, 30.00),
    (629.7, 30.07), (645.5, 30.45), (659.4, 30.53), (676.1, 30.85), (690.0, 30.83), (703.9, 31.17), (719.7, 31.27),
    (734.5, 31.55), (750.3, 31.35), (764.2, 31.39), (780.9, 30.97), (793.9, 30.92), (810.5, 30.30), (824.5, 30.09),
    (840.2, 29.34), (855.1, 29.21), (870.8, 28.67), (884.7, 28.65), (899.6, 28.37), (914.4, 28.55), (929.3, 28.39),
    (945.0, 28.44), (960.8, 28.07), (974.7, 28.15), (989.5, 27.89), (1005.3, 28.08), (1019.2, 27.99), (1035.0, 28.29),
    (1049.8, 28.28), (1065.6, 28.63), (1079.5, 28.52), (1095.3, 28.70), (1110.1, 28.50), (1124.0, 28.52), (1141.6, 28.15),
    (1155.5, 28.33), (1170.4, 27.55), (1183.4, 27.28), (1200.0, 26.65), (1214.0, 26.62), (1230.7, 26.07), (1244.6, 26.11),
    (1260.4, 25.71), (1274.3, 25.77), (1290.1, 25.29), (1304.0, 25.29), (1322.5, 24.88), (1336.4, 24.94), (1350.3, 24.56),
    (1365.2, 24.62), (1381.8, 24.23), (1394.8, 24.29), (1411.5, 23.96), (1425.4, 24.10), (1440.0, 23.84),
]

# ---------------------------------------------------------------- styling
FONT = "DejaVu Sans"
INK = "#222222"
GRID = "#b0b0b0"
FRAME_W = 2742
BORDER_L = 213
BORDER_R = 30

x_range = Range1d(0, 1440)


def make_panel(y_rng, yticks, yfmt, ylabel, frame_h, top, bottom, last=False, title=None):
    p = figure(frame_width=FRAME_W, frame_height=frame_h, x_range=x_range,
               y_range=Range1d(*y_rng), output_backend="svg", toolbar_location=None,
               min_border_left=BORDER_L, min_border_right=BORDER_R,
               min_border_top=top, min_border_bottom=bottom,
               background_fill_color="white", border_fill_color="white")
    if title:
        p.title.text = title
        p.title.align = "center"
        p.title.text_font = FONT
        p.title.text_font_size = "55px"
        p.title.text_font_style = "normal"
        p.title.text_color = "black"
        p.title.standoff = -7
    p.outline_line_color = INK
    p.outline_line_width = 2.2
    for g in (p.xgrid, p.ygrid):
        g.grid_line_color = GRID
        g.grid_line_width = 2
    ax = p.xaxis[0]
    ax.ticker = FixedTicker(ticks=HOUR_TICKS, minor_ticks=QUARTER_TICKS)
    ax.axis_line_color = INK
    ax.axis_line_width = 2.2
    ax.major_tick_line_color = INK
    ax.major_tick_line_width = 2.6
    ax.major_tick_out = 19
    ax.major_tick_in = 0
    ax.minor_tick_line_color = INK
    ax.minor_tick_line_width = 2.2
    ax.minor_tick_out = 10
    ax.minor_tick_in = 0
    if last:
        ax.major_label_overrides = {t: s for t, s in zip(HOUR_TICKS, HOUR_LABELS)}
        ax.major_label_text_font = FONT
        ax.major_label_text_font_size = "44px"
        ax.major_label_text_color = "black"
        ax.major_label_standoff = 5
        ax.axis_label = X_LABEL
        ax.axis_label_text_font = FONT
        ax.axis_label_text_font_size = "50px"
        ax.axis_label_text_font_style = "normal"
        ax.axis_label_text_color = "black"
        ax.axis_label_standoff = 8
    else:
        ax.major_label_overrides = {t: "" for t in HOUR_TICKS}
        ax.major_label_text_font_size = "0px"
        ax.major_label_standoff = 0
    ay = p.yaxis[0]
    ay.ticker = FixedTicker(ticks=yticks)
    ay.formatter = PrintfTickFormatter(format=yfmt)
    ay.axis_line_color = INK
    ay.axis_line_width = 2.2
    ay.major_tick_line_color = INK
    ay.major_tick_line_width = 2.6
    ay.major_tick_out = 19
    ay.major_tick_in = 0
    ay.minor_tick_line_color = None
    ay.major_label_text_font = FONT
    ay.major_label_text_font_size = "44px"
    ay.major_label_text_color = "black"
    ay.major_label_standoff = 6
    ay.axis_label = ylabel
    ay.axis_label_text_font = FONT
    ay.axis_label_text_font_size = "50px"
    ay.axis_label_text_font_style = "normal"
    ay.axis_label_text_color = "black"
    ay.axis_label_standoff = 4
    return p


LW = 2.6

p1 = make_panel((1.47655, 1.51238), POWER_TICKS, "%.2f", Y_LABELS[0], 467, 40, 26, title=TITLE)
bt, bv = zip(*POWER_BASE)
p1.line(list(bt), list(bv), line_color="black", line_width=LW, line_join="round")
st, sv = zip(*POWER_SPIKES)
sbase = np.interp(st, bt, bv)
p1.segment(x0=list(st), y0=list(sbase), x1=list(st), y1=list(sv), line_color="black", line_width=LW)

p2 = make_panel((39.0183, 39.1867), TTEMP_TICKS, "%.2f", Y_LABELS[1], 468, 6, 26)
t2, v2 = zip(*TTEMP)
p2.line(list(t2), list(v2), line_color="#d62728", line_width=LW, line_join="round")

p3 = make_panel((36.625, 37.280), RTEMP_TICKS, "%.1f", Y_LABELS[2], 468, 6, 26)
t3, v3 = zip(*RTEMP)
p3.line(list(t3), list(v3), line_color="#ff7f0e", line_width=LW, line_join="round")

p4 = make_panel((23.46, 31.95), PCTEMP_TICKS, "%d", Y_LABELS[3], 469, 5, 120, last=True)
t4, v4 = zip(*PCTEMP)
p4.line(list(t4), list(v4), line_color="#1f77b4", line_width=LW, line_join="round")

layout = column(p1, p2, p3, p4, spacing=0)
open("out.html", "w").write(file_html(layout, INLINE))
